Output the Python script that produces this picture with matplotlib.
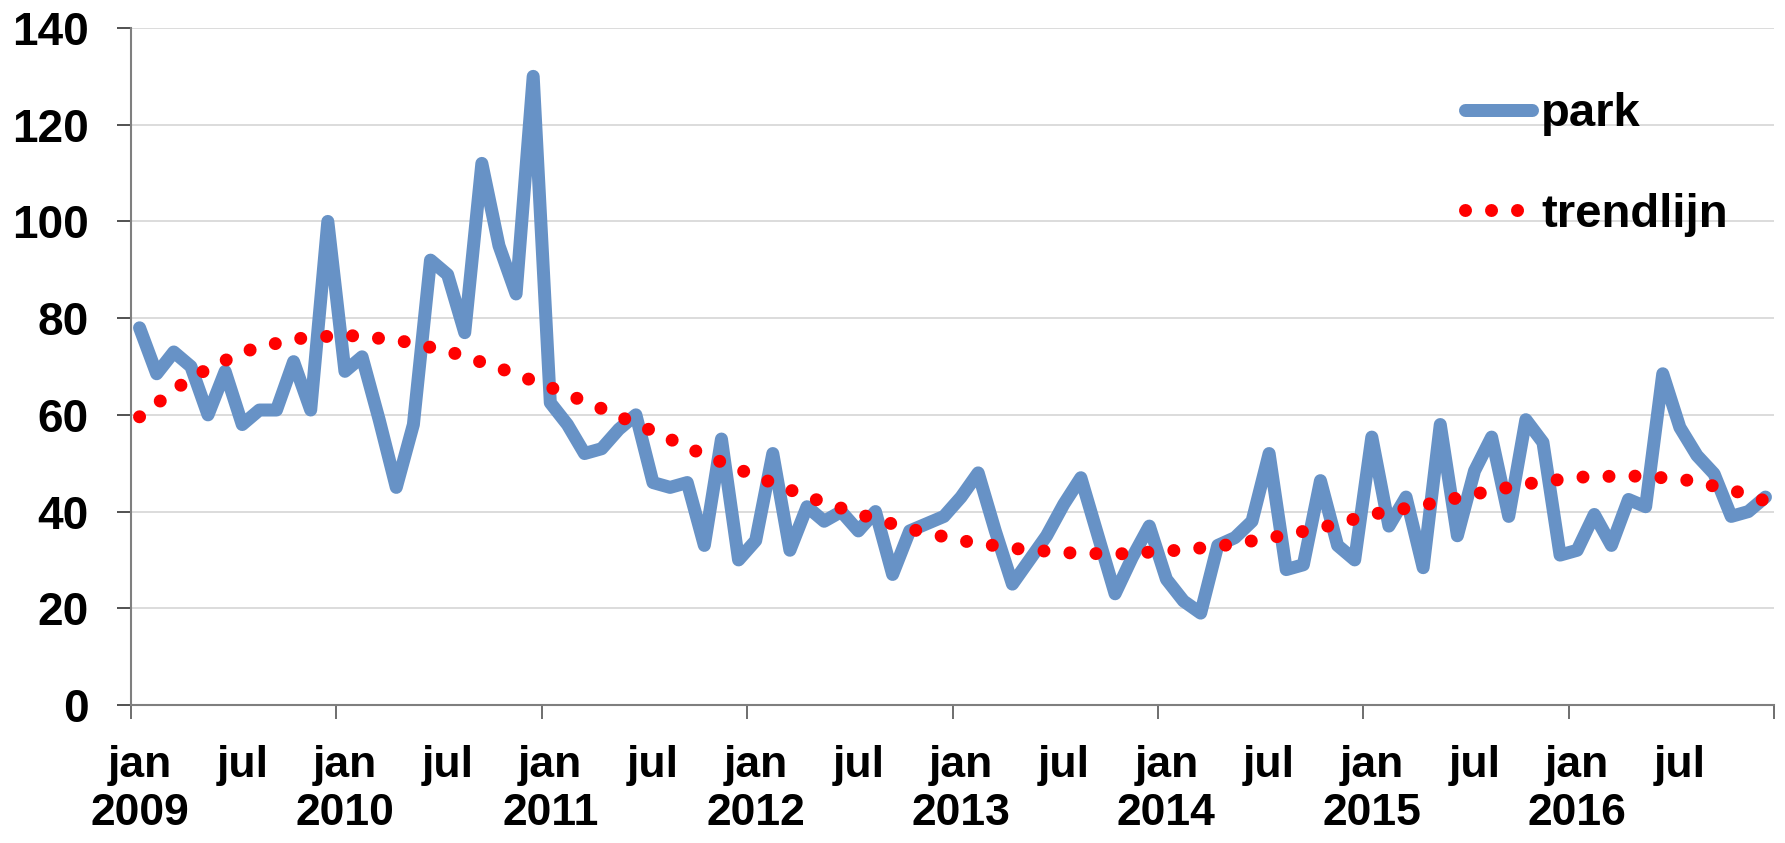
import matplotlib
matplotlib.use("Agg")
import matplotlib.pyplot as plt
from matplotlib.lines import Line2D

# monthly values jan 2009 .. dec 2016
park = [78, 68.5, 73, 70, 60, 69, 58, 61, 61, 71, 61, 100,
        69, 72, 59, 45, 58, 92, 89, 77, 112, 95, 85, 130,
        62.5, 58, 52, 53, 57, 60, 46, 45, 46, 33, 55, 30,
        34, 52, 32, 41, 38, 40, 36, 40, 27, 36, 37.5, 39,
        43, 48, 36, 25, 30, 35, 41.5, 47, 35, 23, 30.5, 37,
        26, 21.5, 19, 33, 34.6, 38, 52, 28, 29, 46.4, 33, 30,
        55.4, 37, 43, 28.4, 58, 35, 48.4, 55.4, 39, 59, 54.3, 31,
        32, 39.4, 33, 42.5, 41, 68.5, 57.4, 51.6, 47.8, 39, 40, 43]

# trend line, every third month
trend_month = [0, 3, 6, 9, 12, 15, 18, 21, 24, 27, 30, 33, 36, 39, 42, 45,
               48, 51, 54, 57, 60, 63, 66, 69, 72, 75, 78, 81, 84, 87, 90, 93, 95]
trend = [59.6, 67.7, 73.0, 75.7, 76.5, 75.5, 73.2, 69.7, 65.7, 61.3, 56.6,
         51.7, 47.3, 43.1, 39.5, 36.4, 34.0, 32.4, 31.5, 31.2, 31.8, 32.8,
         34.5, 36.6, 39.4, 41.3, 43.6, 45.7, 47.1, 47.4, 46.8, 44.5, 42.2]

years = [2009, 2010, 2011, 2012, 2013, 2014, 2015, 2016]

W, H, DPI = 1785, 843, 100
blue = "#6792C6"
red = "#FF0000"
lw = 13 * 72 / DPI  # 13 px wide strokes

fig = plt.figure(figsize=(W / DPI, H / DPI), dpi=DPI)
ax = fig.add_axes([131 / W, 1 - 705 / H, (1774 - 131) / W, (705 - 28) / H])

months = list(range(len(park)))
ax.plot(months, park, color=blue, lw=lw, solid_joinstyle="round",
        solid_capstyle="round", zorder=3)
ax.plot(trend_month, trend, color=red, lw=lw, linestyle=(0, (0.001, 2.0)),
        dash_capstyle="round", zorder=4)

ax.set_xlim(-0.5, len(park) - 0.5)
ax.set_ylim(0, 140)

# y axis
ax.set_yticks(range(0, 141, 20))
ax.set_yticklabels([str(v) for v in range(0, 141, 20)],
                   fontfamily=["Liberation Sans", "DejaVu Sans"],
                   fontweight="bold", fontsize=33)
ax.tick_params(axis="y", direction="out", length=10.3, width=1.2,
               color="#333333", pad=20)
ax.grid(axis="y", color="#D9D9D9", lw=1.3, zorder=0)

# x axis: ticks at year boundaries, labels at jan / jul
ax.set_xticks([12 * k - 0.5 for k in range(len(years) + 1)])
ax.set_xticklabels([])
ax.tick_params(axis="x", which="major", direction="out", length=10,
               width=1.2, color="#555555")
label_pos, label_txt = [], []
for k, yr in enumerate(years):
    label_pos += [12 * k, 12 * k + 6]
    label_txt += [f"jan\n{yr}", "jul"]
ax.set_xticks(label_pos, minor=True)
ax.set_xticklabels(label_txt, minor=True, va="top", linespacing=1.2,
                   fontfamily=["Liberation Sans Narrow", "Liberation Sans", "DejaVu Sans"],
                   fontweight="bold", fontsize=32)
ax.tick_params(axis="x", which="minor", length=0, pad=29)

for side in ["top", "right"]:
    ax.spines[side].set_visible(False)
for side in ["left", "bottom"]:
    ax.spines[side].set_color("#7F7F7F")
    ax.spines[side].set_linewidth(1.5)

handles = [
    Line2D([], [], color=blue, lw=lw, solid_capstyle="round"),
    Line2D([], [], color=red, lw=lw, linestyle=(0, (0.001, 2.0)),
           dash_capstyle="round"),
]
ax.legend(handles, ["park", "trendlijn"], loc="center left",
          bbox_to_anchor=(1464.5 / W, 1 - 164.5 / H), bbox_transform=fig.transFigure,
          frameon=False, borderpad=0, borderaxespad=0, handlelength=1.42,
          handletextpad=0.2, labelspacing=1.2,
          prop={"family": ["Liberation Sans", "DejaVu Sans"], "weight": "bold", "size": 34})

fig.savefig("out.png", dpi=DPI, facecolor="white")
